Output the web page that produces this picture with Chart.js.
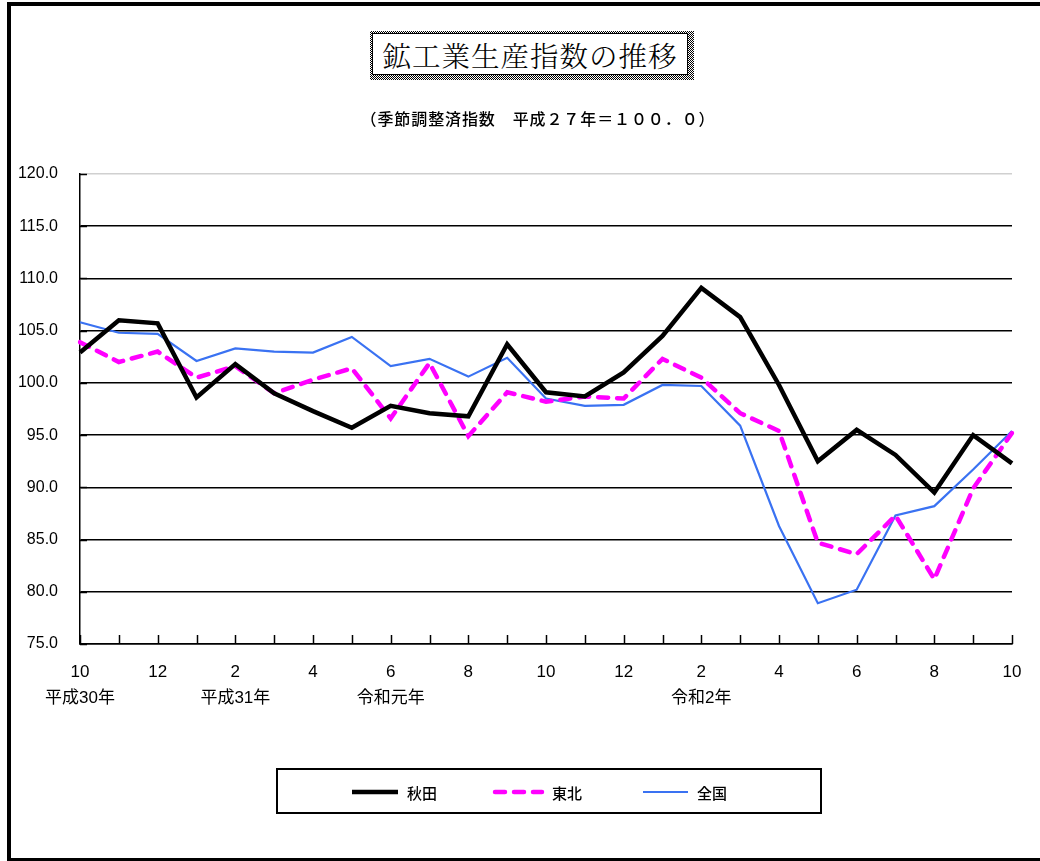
<!DOCTYPE html>
<html><head><meta charset="utf-8">
<script src="https://cdn.jsdelivr.net/npm/chart.js@4"></script>
<style>
html,body{margin:0;padding:0;background:#fff;}
#wrap{position:relative;width:1040px;height:861px;overflow:hidden;background:#fff;}
#frame{position:absolute;left:7px;top:2px;width:1100px;height:859px;box-sizing:border-box;border-left:4px solid #000;border-top:4px solid #000;border-bottom:3px solid #000;}
#c{position:absolute;left:0;top:0;}
#tshadow{position:absolute;left:370px;top:31px;width:324px;height:49px;background:repeating-conic-gradient(#000 0 25%,#fff 0 50%) 0 0/2px 2px;}
#tbox{position:absolute;left:372px;top:33px;width:316px;height:42px;background:#fff;border:1px solid #000;box-sizing:border-box;display:flex;align-items:center;justify-content:center;font-family:'Noto Serif CJK JP','Noto Sans CJK JP',serif;font-weight:300;font-size:28.5px;color:#000;letter-spacing:1px;}
#sub{position:absolute;left:0;width:1076px;top:106px;text-align:center;font-family:'Noto Sans CJK JP',sans-serif;font-weight:500;font-size:16px;letter-spacing:0.9px;color:#000;}
</style></head>
<body>
<div id="wrap">
<div id="frame"></div>
<canvas id="c" width="1040" height="861"></canvas>
<div id="tshadow"></div>
<div id="tbox">鉱工業生産指数の推移</div>
<div id="sub">（季節調整済指数　平成２７年＝１００．０）</div>
</div>
<script>
const months = ['10','11','12','1','2','3','4','5','6','7','8','9','10','11','12','1','2','3','4','5','6','7','8','9','10'];
const years  = ['平成30年','','','','平成31年','','','','令和元年','','','','','','','','令和2年','','','','','','','',''];
const akita  = [102.9,106.0,105.7,98.6,101.8,99.0,97.3,95.7,97.8,97.1,96.8,103.7,99.1,98.7,101.0,104.5,109.1,106.3,99.8,92.5,95.5,93.1,89.5,95.0,92.3];
const tohoku = [103.9,102.0,103.0,100.5,101.6,99.0,100.3,101.4,96.6,101.9,94.9,99.1,98.2,98.7,98.5,102.3,100.5,97.1,95.4,84.7,83.6,87.3,81.2,89.9,95.2];
const zenkoku= [105.8,104.8,104.7,102.1,103.3,103.0,102.9,104.4,101.6,102.3,100.6,102.4,98.5,97.8,97.9,99.8,99.7,95.9,86.3,78.9,80.2,87.3,88.2,91.7,95.4];
const seriesNames = ['秋田','東北','全国'];
const yTicks = [75,80,85,90,95,100,105,110,115,120];

const FONT = "'Liberation Sans','Noto Sans CJK JP',sans-serif";

const extras = {
  id:'extras',
  afterDraw(chart){
    const ctx = chart.ctx, x = chart.scales.x, y = chart.scales.y;
    const a = chart.chartArea;
    ctx.save();
    ctx.strokeStyle = '#000'; ctx.lineWidth = 1.5;
    for(let i=0;i<months.length;i++){
      const px = Math.round(x.getPixelForValue(i))+0.5;
      ctx.beginPath(); ctx.moveTo(px,a.bottom); ctx.lineTo(px,a.bottom-9); ctx.stroke();
    }
    yTicks.forEach(v=>{
      const py = Math.round(y.getPixelForValue(v))+0.5;
      ctx.beginPath(); ctx.moveTo(a.left,py); ctx.lineTo(a.left+7,py); ctx.stroke();
    });
    ctx.lineWidth = 2;
    ctx.strokeRect(277,769,544,44);
    const items = [[352,398,407],[493,542,552],[643,688,697]];
    chart.data.datasets.forEach((ds,i)=>{
      const [x0,x1,tx] = items[i];
      ctx.beginPath();
      ctx.strokeStyle = ds.borderColor; ctx.lineWidth = ds.borderWidth;
      ctx.lineCap = ds.borderCapStyle || 'butt';
      ctx.setLineDash(ds.borderDash || []);
      ctx.moveTo(x0+(ds.borderCapStyle==='round'?2:0),792); ctx.lineTo(x1,792); ctx.stroke();
      ctx.setLineDash([]);
      ctx.fillStyle = '#000'; ctx.font = "500 15px 'Noto Sans CJK JP',sans-serif";
      ctx.textBaseline = 'middle'; ctx.textAlign = 'left';
      ctx.fillText(ds.label, tx, 793);
    });
    ctx.restore();
  }
};

new Chart(document.getElementById('c'), {
  type:'line',
  data:{
    labels: months,
    datasets:[
      {label:seriesNames[0], data:akita, borderColor:'#000', borderWidth:4.5, pointRadius:0, tension:0, borderJoinStyle:'miter'},
      {label:seriesNames[1], data:tohoku, borderColor:'#ff00ff', borderWidth:4.5, borderDash:[10,9], borderCapStyle:'round', pointRadius:0, tension:0},
      {label:seriesNames[2], data:zenkoku, borderColor:'#3a72f2', borderWidth:2.2, pointRadius:0, tension:0}
    ]
  },
  options:{
    responsive:false, animation:false, devicePixelRatio:1,
    layout:{padding:{top:174,right:28,left:0,bottom:0}},
    plugins:{legend:{display:false}, title:{display:false}, tooltip:{enabled:false}},
    scales:{
      x:{
        type:'category', offset:false,
        grid:{display:false, drawTicks:false},
        border:{display:true,color:'#000',width:1.5},
        ticks:{autoSkip:false, maxRotation:0, padding:16, color:'#000',
          font:{family:FONT,size:17,lineHeight:1.5},
          callback:(v,i)=> i%2===0 ? [months[i], years[i]] : ''},
        afterFit:(s)=>{s.height=217;}
      },
      y:{
        min:75, max:120,
        grid:{drawTicks:false, lineWidth:1.5, color:(c)=> c.tick && c.tick.value===120 ? '#d0d0d0' : '#000'},
        border:{display:true,color:'#000',width:1.5},
        ticks:{stepSize:5, padding:22, color:'#000', font:{family:FONT,size:16},
          callback:(v)=>Number(v).toFixed(1)},
        afterFit:(s)=>{s.width=80;}
      }
    }
  },
  plugins:[extras]
});
</script>
</body></html>
